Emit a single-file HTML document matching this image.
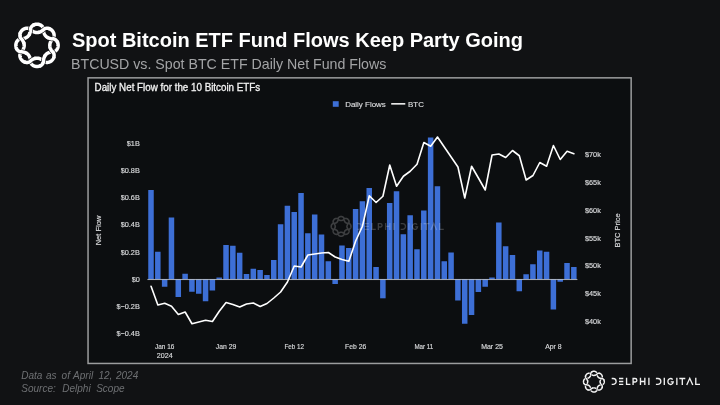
<!DOCTYPE html>
<html><head><meta charset="utf-8"><title>Spot Bitcoin ETF Fund Flows</title>
<style>
html,body{margin:0;padding:0;background:#111214;}
body{width:720px;height:405px;position:relative;overflow:hidden;font-family:"Liberation Sans",sans-serif;}
.title{position:absolute;left:72px;top:27px;font-size:19px;font-weight:bold;color:#fff;white-space:nowrap;line-height:24px;}
.sub{position:absolute;left:71.5px;top:54.5px;font-size:13.8px;color:#a2a3a5;white-space:nowrap;line-height:18px;}
.foot{position:absolute;left:21px;top:368.6px;font-size:10px;font-style:italic;color:#6d6f72;white-space:nowrap;line-height:13.2px;}
</style></head><body>
<svg width="720" height="405" viewBox="0 0 720 405" style="position:absolute;left:0;top:0;will-change:transform">
<rect x="88.05" y="77.85" width="543.1" height="285.6" fill="#0c0e10" stroke="#9c9d9e" stroke-width="1.5"/>
<g fill="#3d6fd6"><rect x="148.25" y="190.00" width="5.50" height="89.25"/><rect x="155.07" y="251.75" width="5.50" height="27.50"/><rect x="161.89" y="279.25" width="5.50" height="7.50"/><rect x="168.71" y="217.50" width="5.50" height="61.75"/><rect x="175.53" y="279.25" width="5.50" height="17.75"/><rect x="182.35" y="273.75" width="5.50" height="5.50"/><rect x="189.17" y="279.25" width="5.50" height="12.50"/><rect x="195.99" y="279.25" width="5.50" height="14.50"/><rect x="202.81" y="279.25" width="5.50" height="22.00"/><rect x="209.63" y="279.25" width="5.50" height="11.25"/><rect x="216.45" y="277.50" width="5.50" height="1.75"/><rect x="223.27" y="245.00" width="5.50" height="34.25"/><rect x="230.09" y="245.75" width="5.50" height="33.50"/><rect x="236.91" y="252.75" width="5.50" height="26.50"/><rect x="243.73" y="274.00" width="5.50" height="5.25"/><rect x="250.55" y="268.75" width="5.50" height="10.50"/><rect x="257.37" y="270.00" width="5.50" height="9.25"/><rect x="264.19" y="275.00" width="5.50" height="4.25"/><rect x="271.01" y="260.00" width="5.50" height="19.25"/><rect x="277.83" y="224.25" width="5.50" height="55.00"/><rect x="284.65" y="205.75" width="5.50" height="73.50"/><rect x="291.47" y="212.00" width="5.50" height="67.25"/><rect x="298.29" y="193.00" width="5.50" height="86.25"/><rect x="305.11" y="233.25" width="5.50" height="46.00"/><rect x="311.93" y="214.50" width="5.50" height="64.75"/><rect x="318.75" y="234.50" width="5.50" height="44.75"/><rect x="325.57" y="261.25" width="5.50" height="18.00"/><rect x="332.39" y="279.25" width="5.50" height="4.75"/><rect x="339.21" y="245.50" width="5.50" height="33.75"/><rect x="346.03" y="248.00" width="5.50" height="31.25"/><rect x="352.85" y="209.00" width="5.50" height="70.25"/><rect x="359.67" y="201.25" width="5.50" height="78.00"/><rect x="366.49" y="188.00" width="5.50" height="91.25"/><rect x="373.31" y="267.00" width="5.50" height="12.25"/><rect x="380.13" y="279.25" width="5.50" height="19.05"/><rect x="386.95" y="203.00" width="5.50" height="76.25"/><rect x="393.77" y="191.25" width="5.50" height="88.00"/><rect x="400.59" y="234.25" width="5.50" height="45.00"/><rect x="407.41" y="215.25" width="5.50" height="64.00"/><rect x="414.23" y="249.25" width="5.50" height="30.00"/><rect x="421.05" y="210.50" width="5.50" height="68.75"/><rect x="427.87" y="137.50" width="5.50" height="141.75"/><rect x="434.69" y="186.25" width="5.50" height="93.00"/><rect x="441.51" y="261.25" width="5.50" height="18.00"/><rect x="448.33" y="252.50" width="5.50" height="26.75"/><rect x="455.15" y="279.25" width="5.50" height="21.25"/><rect x="461.97" y="279.25" width="5.50" height="44.50"/><rect x="468.79" y="279.25" width="5.50" height="35.75"/><rect x="475.61" y="279.25" width="5.50" height="12.75"/><rect x="482.43" y="279.25" width="5.50" height="7.50"/><rect x="489.25" y="277.50" width="5.50" height="1.75"/><rect x="496.07" y="222.50" width="5.50" height="56.75"/><rect x="502.89" y="246.25" width="5.50" height="33.00"/><rect x="509.71" y="255.00" width="5.50" height="24.25"/><rect x="516.53" y="279.25" width="5.50" height="12.00"/><rect x="523.35" y="274.25" width="5.50" height="5.00"/><rect x="530.17" y="264.25" width="5.50" height="15.00"/><rect x="536.99" y="250.50" width="5.50" height="28.75"/><rect x="543.81" y="251.75" width="5.50" height="27.50"/><rect x="550.63" y="279.25" width="5.50" height="30.25"/><rect x="557.45" y="279.25" width="5.50" height="2.50"/><rect x="564.27" y="263.00" width="5.50" height="16.25"/><rect x="571.09" y="267.00" width="5.50" height="12.25"/></g>
<rect x="147.4" y="278.95" width="430" height="1.1" fill="#c3c8d2" fill-opacity="0.8"/>
<polyline points="151.05,286.25 157.87,305.00 164.69,303.25 171.51,306.25 178.33,314.50 185.15,312.00 191.97,323.75 198.79,322.00 205.61,320.25 212.43,321.50 219.25,311.25 226.07,302.50 232.89,304.50 239.71,307.00 246.53,304.00 253.35,303.00 260.17,306.50 266.99,303.50 273.81,298.00 280.63,292.00 287.45,282.00 294.27,266.00 301.09,267.00 307.91,255.00 314.73,254.00 321.55,253.00 328.37,252.50 335.19,257.00 342.01,259.50 348.83,261.25 355.65,241.00 362.47,226.25 369.29,195.75 376.11,202.50 382.93,196.25 389.75,165.00 396.57,186.25 403.39,176.25 410.21,171.25 417.03,164.25 423.85,142.50 430.67,146.25 437.49,137.00 444.31,147.00 451.13,157.00 457.95,167.00 464.77,198.00 471.59,166.25 478.41,178.00 485.23,190.00 492.05,155.00 498.87,154.00 505.69,157.50 512.51,150.50 519.33,155.75 526.15,180.00 532.97,175.50 539.79,162.50 546.61,166.25 553.43,145.50 560.25,159.50 567.07,151.25 573.89,153.75" fill="none" stroke="#ffffff" stroke-width="1.6" stroke-linejoin="round" stroke-linecap="round"/>
<g font-family="Liberation Sans, sans-serif" font-size="7.3" fill="#d6d7d9" stroke="#d6d7d9" stroke-width="0.18">
<text x="139.8" y="145.85" text-anchor="end">$1B</text>
<text x="139.8" y="173.05" text-anchor="end">$0.8B</text>
<text x="139.8" y="200.25" text-anchor="end">$0.6B</text>
<text x="139.8" y="227.45" text-anchor="end">$0.4B</text>
<text x="139.8" y="254.65" text-anchor="end">$0.2B</text>
<text x="139.8" y="281.85" text-anchor="end">$0</text>
<text x="139.8" y="309.05" text-anchor="end">$−0.2B</text>
<text x="139.8" y="336.25" text-anchor="end">$−0.4B</text>
<text x="585" y="157.30">$70k</text>
<text x="585" y="185.05">$65k</text>
<text x="585" y="212.80">$60k</text>
<text x="585" y="240.55">$55k</text>
<text x="585" y="268.30">$50k</text>
<text x="585" y="296.05">$45k</text>
<text x="585" y="323.80">$40k</text>
<text x="155.04" y="348.9" textLength="19.3" lengthAdjust="spacingAndGlyphs">Jan 16</text>
<text x="215.82" y="348.9" textLength="20.5" lengthAdjust="spacingAndGlyphs">Jan 29</text>
<text x="284.47" y="348.9" textLength="19.6" lengthAdjust="spacingAndGlyphs">Feb 12</text>
<text x="345.05" y="348.9" textLength="21.2" lengthAdjust="spacingAndGlyphs">Feb 26</text>
<text x="414.40" y="348.9" textLength="18.9" lengthAdjust="spacingAndGlyphs">Mar 11</text>
<text x="481.20" y="348.9" textLength="21.7" lengthAdjust="spacingAndGlyphs">Mar 25</text>
<text x="545.18" y="348.9" textLength="16.5" lengthAdjust="spacingAndGlyphs">Apr 8</text>
<text x="156.8" y="358.4" textLength="15.8" lengthAdjust="spacingAndGlyphs">2024</text>
<text transform="translate(101.0 230.5) rotate(-90)" text-anchor="middle" font-size="7.5">Net Flow</text>
<text transform="translate(620.2 230.5) rotate(-90)" text-anchor="middle" font-size="7.5">BTC Price</text>
</g>
<rect x="332.8" y="101.2" width="5.9" height="5.6" fill="#3d6fd6"/>
<rect x="391.2" y="103.1" width="14.1" height="1.5" fill="#ffffff"/>
<g font-family="Liberation Sans, sans-serif" font-size="7.8" fill="#dcdddf" stroke="#dcdddf" stroke-width="0.15"><text x="345.2" y="107.2" textLength="40.6" lengthAdjust="spacingAndGlyphs">Daily Flows</text><text x="408.1" y="107.2" textLength="15.8" lengthAdjust="spacingAndGlyphs">BTC</text></g>
<text x="94.6" y="90.8" font-family="Liberation Sans, sans-serif" font-size="10.3" fill="#f2f2f2" stroke="#f2f2f2" stroke-width="0.3" textLength="165.6" lengthAdjust="spacingAndGlyphs">Daily Net Flow for the 10 Bitcoin ETFs</text>
<g opacity="0.2">
<path d="M350.95 226.40 L350.95 226.23 L350.93 226.06 L350.91 225.89 L350.89 225.72 L350.85 225.55 L350.80 225.38 L350.75 225.22 L350.69 225.05 L350.61 224.89 L350.53 224.74 L350.44 224.58 L350.34 224.44 L350.22 224.29 L350.10 224.16 L349.97 224.02 L349.82 223.90 L349.66 223.78 L349.49 223.67 L349.31 223.57 L349.10 223.49 L348.87 223.42 L348.58 223.38 L348.13 223.42 L347.84 223.40 L347.61 223.36 L347.41 223.32 L347.23 223.28 L347.05 223.23 L346.90 223.19 L346.75 223.14 L346.61 223.09 L346.47 223.04 L346.35 222.99 L346.23 222.94 L346.12 222.89 L346.01 222.83 L345.91 222.78 L345.81 222.72 L345.72 222.66 L345.63 222.60 L345.55 222.54 L345.46 222.47 L345.39 222.40 L345.31 222.33 L345.24 222.26 L345.17 222.19 L345.10 222.11 L345.03 222.04 L344.96 221.95 L344.90 221.87 L344.84 221.78 L344.78 221.69 L344.72 221.59 L344.67 221.49 L344.61 221.38 L344.56 221.27 L344.51 221.15 L344.46 221.03 L344.41 220.89 L344.36 220.75 L344.31 220.60 L344.27 220.45 L344.22 220.27 L344.18 220.09 L344.14 219.89 L344.10 219.66 L344.08 219.37 L344.12 218.92 L344.08 218.63 L344.01 218.40 L343.93 218.19 L343.83 218.01 L343.72 217.84 L343.60 217.68 L343.48 217.53 L343.34 217.40 L343.21 217.28 L343.06 217.16 L342.92 217.06 L342.76 216.97 L342.61 216.89 L342.45 216.81 L342.28 216.75 L342.12 216.70 L341.95 216.65 L341.78 216.61 L341.61 216.59 L341.44 216.57 L341.27 216.55 L341.10 216.55 L340.93 216.55 L340.76 216.57 L340.59 216.59 L340.42 216.61 L340.25 216.65 L340.08 216.70 L339.92 216.75 L339.75 216.81 L339.59 216.89 L339.44 216.97 L339.28 217.06 L339.14 217.16 L338.99 217.28 L338.86 217.40 L338.72 217.53 L338.60 217.68 L338.48 217.84 L338.37 218.01 L338.27 218.19 L338.19 218.40 L338.12 218.63 L338.08 218.92 L338.12 219.37 L338.10 219.66 L338.06 219.89 L338.02 220.09 L337.98 220.27 L337.93 220.45 L337.89 220.60 L337.84 220.75 L337.79 220.89 L337.74 221.03 L337.69 221.15 L337.64 221.27 L337.59 221.38 L337.53 221.49 L337.48 221.59 L337.42 221.69 L337.36 221.78 L337.30 221.87 L337.24 221.95 L337.17 222.04 L337.10 222.11 L337.03 222.19 L336.96 222.26 L336.89 222.33 L336.81 222.40 L336.74 222.47 L336.65 222.54 L336.57 222.60 L336.48 222.66 L336.39 222.72 L336.29 222.78 L336.19 222.83 L336.08 222.89 L335.97 222.94 L335.85 222.99 L335.73 223.04 L335.59 223.09 L335.45 223.14 L335.30 223.19 L335.15 223.23 L334.97 223.28 L334.79 223.32 L334.59 223.36 L334.36 223.40 L334.07 223.42 L333.62 223.38 L333.33 223.42 L333.10 223.49 L332.89 223.57 L332.71 223.67 L332.54 223.78 L332.38 223.90 L332.23 224.02 L332.10 224.16 L331.98 224.29 L331.86 224.44 L331.76 224.58 L331.67 224.74 L331.59 224.89 L331.51 225.05 L331.45 225.22 L331.40 225.38 L331.35 225.55 L331.31 225.72 L331.29 225.89 L331.27 226.06 L331.25 226.23 L331.25 226.40 L331.25 226.57 L331.27 226.74 L331.29 226.91 L331.31 227.08 L331.35 227.25 L331.40 227.42 L331.45 227.58 L331.51 227.75 L331.59 227.91 L331.67 228.06 L331.76 228.22 L331.86 228.36 L331.98 228.51 L332.10 228.64 L332.23 228.78 L332.38 228.90 L332.54 229.02 L332.71 229.13 L332.89 229.23 L333.10 229.31 L333.33 229.38 L333.62 229.42 L334.07 229.38 L334.36 229.40 L334.59 229.44 L334.79 229.48 L334.97 229.52 L335.15 229.57 L335.30 229.61 L335.45 229.66 L335.59 229.71 L335.73 229.76 L335.85 229.81 L335.97 229.86 L336.08 229.91 L336.19 229.97 L336.29 230.02 L336.39 230.08 L336.48 230.14 L336.57 230.20 L336.65 230.26 L336.74 230.33 L336.81 230.40 L336.89 230.47 L336.96 230.54 L337.03 230.61 L337.10 230.69 L337.17 230.76 L337.24 230.85 L337.30 230.93 L337.36 231.02 L337.42 231.11 L337.48 231.21 L337.53 231.31 L337.59 231.42 L337.64 231.53 L337.69 231.65 L337.74 231.77 L337.79 231.91 L337.84 232.05 L337.89 232.20 L337.93 232.35 L337.98 232.53 L338.02 232.71 L338.06 232.91 L338.10 233.14 L338.12 233.43 L338.08 233.88 L338.12 234.17 L338.19 234.40 L338.27 234.61 L338.37 234.79 L338.48 234.96 L338.60 235.12 L338.72 235.27 L338.86 235.40 L338.99 235.52 L339.14 235.64 L339.28 235.74 L339.44 235.83 L339.59 235.91 L339.75 235.99 L339.92 236.05 L340.08 236.10 L340.25 236.15 L340.42 236.19 L340.59 236.21 L340.76 236.23 L340.93 236.25 L341.10 236.25 L341.27 236.25 L341.44 236.23 L341.61 236.21 L341.78 236.19 L341.95 236.15 L342.12 236.10 L342.28 236.05 L342.45 235.99 L342.61 235.91 L342.76 235.83 L342.92 235.74 L343.06 235.64 L343.21 235.52 L343.34 235.40 L343.48 235.27 L343.60 235.12 L343.72 234.96 L343.83 234.79 L343.93 234.61 L344.01 234.40 L344.08 234.17 L344.12 233.88 L344.08 233.43 L344.10 233.14 L344.14 232.91 L344.18 232.71 L344.22 232.53 L344.27 232.35 L344.31 232.20 L344.36 232.05 L344.41 231.91 L344.46 231.77 L344.51 231.65 L344.56 231.53 L344.61 231.42 L344.67 231.31 L344.72 231.21 L344.78 231.11 L344.84 231.02 L344.90 230.93 L344.96 230.85 L345.03 230.76 L345.10 230.69 L345.17 230.61 L345.24 230.54 L345.31 230.47 L345.39 230.40 L345.46 230.33 L345.55 230.26 L345.63 230.20 L345.72 230.14 L345.81 230.08 L345.91 230.02 L346.01 229.97 L346.12 229.91 L346.23 229.86 L346.35 229.81 L346.47 229.76 L346.61 229.71 L346.75 229.66 L346.90 229.61 L347.05 229.57 L347.23 229.52 L347.41 229.48 L347.61 229.44 L347.84 229.40 L348.13 229.38 L348.58 229.42 L348.87 229.38 L349.10 229.31 L349.31 229.23 L349.49 229.13 L349.66 229.02 L349.82 228.90 L349.97 228.78 L350.10 228.64 L350.22 228.51 L350.34 228.36 L350.44 228.22 L350.53 228.06 L350.61 227.91 L350.69 227.75 L350.75 227.58 L350.80 227.42 L350.85 227.25 L350.89 227.08 L350.91 226.91 L350.93 226.74 L350.95 226.57 Z M346.95 226.40 L346.95 226.30 L346.96 226.20 L346.96 226.09 L346.98 225.99 L346.99 225.88 L347.01 225.78 L347.03 225.67 L347.06 225.56 L347.09 225.45 L347.13 225.34 L347.17 225.22 L347.22 225.10 L347.27 224.97 L347.33 224.85 L347.40 224.71 L347.47 224.57 L347.55 224.43 L347.64 224.28 L347.74 224.11 L347.85 223.94 L347.99 223.75 L348.18 223.54 L348.53 223.25 L348.70 223.02 L348.81 222.80 L348.90 222.60 L348.96 222.39 L349.01 222.20 L349.04 222.00 L349.05 221.81 L349.05 221.62 L349.04 221.44 L349.02 221.26 L348.99 221.08 L348.94 220.91 L348.89 220.74 L348.83 220.57 L348.76 220.41 L348.68 220.26 L348.60 220.11 L348.50 219.96 L348.40 219.82 L348.30 219.69 L348.18 219.56 L348.07 219.43 L347.94 219.32 L347.81 219.20 L347.68 219.10 L347.54 219.00 L347.39 218.90 L347.24 218.82 L347.09 218.74 L346.93 218.67 L346.76 218.61 L346.59 218.56 L346.42 218.51 L346.24 218.48 L346.06 218.46 L345.88 218.45 L345.69 218.45 L345.50 218.46 L345.30 218.49 L345.11 218.54 L344.90 218.60 L344.70 218.69 L344.48 218.80 L344.25 218.97 L343.96 219.32 L343.75 219.51 L343.56 219.65 L343.39 219.76 L343.22 219.86 L343.07 219.95 L342.93 220.03 L342.79 220.10 L342.65 220.17 L342.53 220.23 L342.40 220.28 L342.28 220.33 L342.16 220.37 L342.05 220.41 L341.94 220.44 L341.83 220.47 L341.72 220.49 L341.62 220.51 L341.51 220.52 L341.41 220.54 L341.30 220.54 L341.20 220.55 L341.10 220.55 L341.00 220.55 L340.90 220.54 L340.79 220.54 L340.69 220.52 L340.58 220.51 L340.48 220.49 L340.37 220.47 L340.26 220.44 L340.15 220.41 L340.04 220.37 L339.92 220.33 L339.80 220.28 L339.67 220.23 L339.55 220.17 L339.41 220.10 L339.27 220.03 L339.13 219.95 L338.98 219.86 L338.81 219.76 L338.64 219.65 L338.45 219.51 L338.24 219.32 L337.95 218.97 L337.72 218.80 L337.50 218.69 L337.30 218.60 L337.09 218.54 L336.90 218.49 L336.70 218.46 L336.51 218.45 L336.32 218.45 L336.14 218.46 L335.96 218.48 L335.78 218.51 L335.61 218.56 L335.44 218.61 L335.27 218.67 L335.11 218.74 L334.96 218.82 L334.81 218.90 L334.66 219.00 L334.52 219.10 L334.39 219.20 L334.26 219.32 L334.13 219.43 L334.02 219.56 L333.90 219.69 L333.80 219.82 L333.70 219.96 L333.60 220.11 L333.52 220.26 L333.44 220.41 L333.37 220.57 L333.31 220.74 L333.26 220.91 L333.21 221.08 L333.18 221.26 L333.16 221.44 L333.15 221.62 L333.15 221.81 L333.16 222.00 L333.19 222.20 L333.24 222.39 L333.30 222.60 L333.39 222.80 L333.50 223.02 L333.67 223.25 L334.02 223.54 L334.21 223.75 L334.35 223.94 L334.46 224.11 L334.56 224.28 L334.65 224.43 L334.73 224.57 L334.80 224.71 L334.87 224.85 L334.93 224.97 L334.98 225.10 L335.03 225.22 L335.07 225.34 L335.11 225.45 L335.14 225.56 L335.17 225.67 L335.19 225.78 L335.21 225.88 L335.22 225.99 L335.24 226.09 L335.24 226.20 L335.25 226.30 L335.25 226.40 L335.25 226.50 L335.24 226.60 L335.24 226.71 L335.22 226.81 L335.21 226.92 L335.19 227.02 L335.17 227.13 L335.14 227.24 L335.11 227.35 L335.07 227.46 L335.03 227.58 L334.98 227.70 L334.93 227.83 L334.87 227.95 L334.80 228.09 L334.73 228.23 L334.65 228.37 L334.56 228.52 L334.46 228.69 L334.35 228.86 L334.21 229.05 L334.02 229.26 L333.67 229.55 L333.50 229.78 L333.39 230.00 L333.30 230.20 L333.24 230.41 L333.19 230.60 L333.16 230.80 L333.15 230.99 L333.15 231.18 L333.16 231.36 L333.18 231.54 L333.21 231.72 L333.26 231.89 L333.31 232.06 L333.37 232.23 L333.44 232.39 L333.52 232.54 L333.60 232.69 L333.70 232.84 L333.80 232.98 L333.90 233.11 L334.02 233.24 L334.13 233.37 L334.26 233.48 L334.39 233.60 L334.52 233.70 L334.66 233.80 L334.81 233.90 L334.96 233.98 L335.11 234.06 L335.27 234.13 L335.44 234.19 L335.61 234.24 L335.78 234.29 L335.96 234.32 L336.14 234.34 L336.32 234.35 L336.51 234.35 L336.70 234.34 L336.90 234.31 L337.09 234.26 L337.30 234.20 L337.50 234.11 L337.72 234.00 L337.95 233.83 L338.24 233.48 L338.45 233.29 L338.64 233.15 L338.81 233.04 L338.98 232.94 L339.13 232.85 L339.27 232.77 L339.41 232.70 L339.55 232.63 L339.67 232.57 L339.80 232.52 L339.92 232.47 L340.04 232.43 L340.15 232.39 L340.26 232.36 L340.37 232.33 L340.48 232.31 L340.58 232.29 L340.69 232.28 L340.79 232.26 L340.90 232.26 L341.00 232.25 L341.10 232.25 L341.20 232.25 L341.30 232.26 L341.41 232.26 L341.51 232.28 L341.62 232.29 L341.72 232.31 L341.83 232.33 L341.94 232.36 L342.05 232.39 L342.16 232.43 L342.28 232.47 L342.40 232.52 L342.53 232.57 L342.65 232.63 L342.79 232.70 L342.93 232.77 L343.07 232.85 L343.22 232.94 L343.39 233.04 L343.56 233.15 L343.75 233.29 L343.96 233.48 L344.25 233.83 L344.48 234.00 L344.70 234.11 L344.90 234.20 L345.11 234.26 L345.30 234.31 L345.50 234.34 L345.69 234.35 L345.88 234.35 L346.06 234.34 L346.24 234.32 L346.42 234.29 L346.59 234.24 L346.76 234.19 L346.93 234.13 L347.09 234.06 L347.24 233.98 L347.39 233.90 L347.54 233.80 L347.68 233.70 L347.81 233.60 L347.94 233.48 L348.07 233.37 L348.18 233.24 L348.30 233.11 L348.40 232.98 L348.50 232.84 L348.60 232.69 L348.68 232.54 L348.76 232.39 L348.83 232.23 L348.89 232.06 L348.94 231.89 L348.99 231.72 L349.02 231.54 L349.04 231.36 L349.05 231.18 L349.05 230.99 L349.04 230.80 L349.01 230.60 L348.96 230.41 L348.90 230.20 L348.81 230.00 L348.70 229.78 L348.53 229.55 L348.18 229.26 L347.99 229.05 L347.85 228.86 L347.74 228.69 L347.64 228.52 L347.55 228.37 L347.47 228.23 L347.40 228.09 L347.33 227.95 L347.27 227.83 L347.22 227.70 L347.17 227.58 L347.13 227.46 L347.09 227.35 L347.06 227.24 L347.03 227.13 L347.01 227.02 L346.99 226.92 L346.98 226.81 L346.96 226.71 L346.96 226.60 L346.95 226.50 Z" fill="none" stroke="#ffffff" stroke-width="1.60" stroke-linejoin="round"/>
<g transform="translate(357.50 223.00) scale(0.9770) translate(-611.7 -377.95)" fill="none" stroke="#ffffff" stroke-width="1.35" stroke-linecap="butt" stroke-linejoin="miter"><path d="M611.70 378.53 H613.17 A2.95 2.95 0 0 1 613.17 384.43 H611.70"/><path d="M619.00 378.53 H623.30 M619.00 381.48 H623.30 M619.00 384.43 H623.30"/><path d="M626.57 377.85 V384.43 H630.40"/><path d="M633.07 385.10 V378.53 H635.08 A1.75 1.75 0 0 1 635.08 382.03 H633.07"/><path d="M640.47 377.85 V385.10 M644.83 377.85 V385.10 M640.47 381.48 H644.83"/><path d="M648.90 377.85 V385.10"/><path d="M655.90 378.53 H657.88 A2.95 2.95 0 0 1 657.88 384.43 H655.90"/><path d="M664.30 377.85 V385.10"/><path d="M672.66 379.66 A2.67 2.95 0 1 0 673.22 381.83 H670.75"/><path d="M676.85 377.85 V385.10"/><path d="M679.30 378.53 H685.30 M682.30 378.53 V385.10"/><path d="M686.74 385.10 L689.75 378.35 L692.76 385.10"/><path d="M695.77 377.85 V384.43 H700.00"/></g>
</g>
<path d="M58.15 45.35 L58.14 44.98 L58.12 44.61 L58.07 44.25 L58.01 43.88 L57.94 43.52 L57.84 43.16 L57.73 42.81 L57.59 42.46 L57.44 42.11 L57.26 41.78 L57.07 41.45 L56.86 41.13 L56.62 40.82 L56.36 40.52 L56.08 40.24 L55.77 39.97 L55.44 39.71 L55.08 39.48 L54.69 39.26 L54.25 39.07 L53.76 38.92 L53.16 38.82 L52.21 38.90 L51.62 38.84 L51.13 38.76 L50.70 38.67 L50.31 38.57 L49.95 38.46 L49.61 38.36 L49.29 38.25 L49.00 38.14 L48.71 38.03 L48.45 37.92 L48.19 37.80 L47.95 37.68 L47.73 37.56 L47.51 37.43 L47.30 37.30 L47.10 37.17 L46.91 37.04 L46.72 36.90 L46.55 36.75 L46.38 36.61 L46.21 36.45 L46.05 36.30 L45.90 36.14 L45.74 35.97 L45.60 35.80 L45.45 35.63 L45.31 35.44 L45.18 35.25 L45.05 35.05 L44.92 34.84 L44.79 34.62 L44.67 34.40 L44.55 34.16 L44.43 33.90 L44.32 33.64 L44.21 33.35 L44.10 33.06 L43.99 32.74 L43.89 32.40 L43.78 32.04 L43.68 31.65 L43.59 31.22 L43.51 30.73 L43.45 30.14 L43.53 29.19 L43.43 28.59 L43.28 28.10 L43.09 27.66 L42.87 27.27 L42.64 26.91 L42.38 26.58 L42.11 26.27 L41.83 25.99 L41.53 25.73 L41.22 25.49 L40.90 25.28 L40.57 25.09 L40.24 24.91 L39.89 24.76 L39.54 24.62 L39.19 24.51 L38.83 24.41 L38.47 24.34 L38.10 24.28 L37.74 24.23 L37.37 24.21 L37.00 24.20 L36.63 24.21 L36.26 24.23 L35.90 24.28 L35.53 24.34 L35.17 24.41 L34.81 24.51 L34.46 24.62 L34.11 24.76 L33.76 24.91 L33.43 25.09 L33.10 25.28 L32.78 25.49 L32.47 25.73 L32.17 25.99 L31.89 26.27 L31.62 26.58 L31.36 26.91 L31.13 27.27 L30.91 27.66 L30.72 28.10 L30.57 28.59 L30.47 29.19 L30.55 30.14 L30.49 30.73 L30.41 31.22 L30.32 31.65 L30.22 32.04 L30.11 32.40 L30.01 32.74 L29.90 33.06 L29.79 33.35 L29.68 33.64 L29.57 33.90 L29.45 34.16 L29.33 34.40 L29.21 34.62 L29.08 34.84 L28.95 35.05 L28.82 35.25 L28.69 35.44 L28.55 35.63 L28.40 35.80 L28.26 35.97 L28.10 36.14 L27.95 36.30 L27.79 36.45 L27.62 36.61 L27.45 36.75 L27.28 36.90 L27.09 37.04 L26.90 37.17 L26.70 37.30 L26.49 37.43 L26.27 37.56 L26.05 37.68 L25.81 37.80 L25.55 37.92 L25.29 38.03 L25.00 38.14 L24.71 38.25 L24.39 38.36 L24.05 38.46 L23.69 38.57 L23.30 38.67 L22.87 38.76 L22.38 38.84 L21.79 38.90 L20.84 38.82 L20.24 38.92 L19.75 39.07 L19.31 39.26 L18.92 39.48 L18.56 39.71 L18.23 39.97 L17.92 40.24 L17.64 40.52 L17.38 40.82 L17.14 41.13 L16.93 41.45 L16.74 41.78 L16.56 42.11 L16.41 42.46 L16.27 42.81 L16.16 43.16 L16.06 43.52 L15.99 43.88 L15.93 44.25 L15.88 44.61 L15.86 44.98 L15.85 45.35 L15.86 45.72 L15.88 46.09 L15.93 46.45 L15.99 46.82 L16.06 47.18 L16.16 47.54 L16.27 47.89 L16.41 48.24 L16.56 48.59 L16.74 48.92 L16.93 49.25 L17.14 49.57 L17.38 49.88 L17.64 50.18 L17.92 50.46 L18.23 50.73 L18.56 50.99 L18.92 51.22 L19.31 51.44 L19.75 51.63 L20.24 51.78 L20.84 51.88 L21.79 51.80 L22.38 51.86 L22.87 51.94 L23.30 52.03 L23.69 52.13 L24.05 52.24 L24.39 52.34 L24.71 52.45 L25.00 52.56 L25.29 52.67 L25.55 52.78 L25.81 52.90 L26.05 53.02 L26.27 53.14 L26.49 53.27 L26.70 53.40 L26.90 53.53 L27.09 53.66 L27.28 53.80 L27.45 53.95 L27.62 54.09 L27.79 54.25 L27.95 54.40 L28.10 54.56 L28.26 54.73 L28.40 54.90 L28.55 55.07 L28.69 55.26 L28.82 55.45 L28.95 55.65 L29.08 55.86 L29.21 56.08 L29.33 56.30 L29.45 56.54 L29.57 56.80 L29.68 57.06 L29.79 57.35 L29.90 57.64 L30.01 57.96 L30.11 58.30 L30.22 58.66 L30.32 59.05 L30.41 59.48 L30.49 59.97 L30.55 60.56 L30.47 61.51 L30.57 62.11 L30.72 62.60 L30.91 63.04 L31.13 63.43 L31.36 63.79 L31.62 64.12 L31.89 64.43 L32.17 64.71 L32.47 64.97 L32.78 65.21 L33.10 65.42 L33.43 65.61 L33.76 65.79 L34.11 65.94 L34.46 66.08 L34.81 66.19 L35.17 66.29 L35.53 66.36 L35.90 66.42 L36.26 66.47 L36.63 66.49 L37.00 66.50 L37.37 66.49 L37.74 66.47 L38.10 66.42 L38.47 66.36 L38.83 66.29 L39.19 66.19 L39.54 66.08 L39.89 65.94 L40.24 65.79 L40.57 65.61 L40.90 65.42 L41.22 65.21 L41.53 64.97 L41.83 64.71 L42.11 64.43 L42.38 64.12 L42.64 63.79 L42.87 63.43 L43.09 63.04 L43.28 62.60 L43.43 62.11 L43.53 61.51 L43.45 60.56 L43.51 59.97 L43.59 59.48 L43.68 59.05 L43.78 58.66 L43.89 58.30 L43.99 57.96 L44.10 57.64 L44.21 57.35 L44.32 57.06 L44.43 56.80 L44.55 56.54 L44.67 56.30 L44.79 56.08 L44.92 55.86 L45.05 55.65 L45.18 55.45 L45.31 55.26 L45.45 55.07 L45.60 54.90 L45.74 54.73 L45.90 54.56 L46.05 54.40 L46.21 54.25 L46.38 54.09 L46.55 53.95 L46.72 53.80 L46.91 53.66 L47.10 53.53 L47.30 53.40 L47.51 53.27 L47.73 53.14 L47.95 53.02 L48.19 52.90 L48.45 52.78 L48.71 52.67 L49.00 52.56 L49.29 52.45 L49.61 52.34 L49.95 52.24 L50.31 52.13 L50.70 52.03 L51.13 51.94 L51.62 51.86 L52.21 51.80 L53.16 51.88 L53.76 51.78 L54.25 51.63 L54.69 51.44 L55.08 51.22 L55.44 50.99 L55.77 50.73 L56.08 50.46 L56.36 50.18 L56.62 49.88 L56.86 49.57 L57.07 49.25 L57.26 48.92 L57.44 48.59 L57.59 48.24 L57.73 47.89 L57.84 47.54 L57.94 47.18 L58.01 46.82 L58.07 46.45 L58.12 46.09 L58.14 45.72 Z M49.80 45.35 L49.80 45.13 L49.81 44.90 L49.83 44.68 L49.85 44.45 L49.88 44.22 L49.92 43.99 L49.97 43.76 L50.03 43.52 L50.09 43.28 L50.17 43.03 L50.26 42.77 L50.35 42.51 L50.46 42.24 L50.58 41.96 L50.71 41.68 L50.86 41.38 L51.03 41.06 L51.21 40.73 L51.42 40.39 L51.65 40.02 L51.94 39.62 L52.32 39.16 L53.05 38.54 L53.40 38.05 L53.64 37.59 L53.81 37.15 L53.94 36.72 L54.03 36.30 L54.08 35.88 L54.11 35.47 L54.10 35.07 L54.08 34.68 L54.03 34.29 L53.95 33.92 L53.86 33.55 L53.74 33.19 L53.61 32.84 L53.45 32.49 L53.29 32.16 L53.10 31.84 L52.90 31.53 L52.68 31.23 L52.45 30.94 L52.21 30.66 L51.96 30.39 L51.69 30.14 L51.41 29.90 L51.12 29.67 L50.82 29.45 L50.51 29.25 L50.19 29.06 L49.86 28.90 L49.51 28.74 L49.16 28.61 L48.80 28.49 L48.43 28.40 L48.06 28.32 L47.67 28.27 L47.28 28.25 L46.88 28.24 L46.47 28.27 L46.05 28.32 L45.63 28.41 L45.20 28.54 L44.76 28.71 L44.30 28.95 L43.81 29.30 L43.19 30.03 L42.73 30.41 L42.33 30.70 L41.96 30.93 L41.62 31.14 L41.29 31.32 L40.97 31.49 L40.67 31.64 L40.39 31.77 L40.11 31.89 L39.84 32.00 L39.58 32.09 L39.32 32.18 L39.07 32.26 L38.83 32.32 L38.59 32.38 L38.36 32.43 L38.13 32.47 L37.90 32.50 L37.67 32.52 L37.45 32.54 L37.22 32.55 L37.00 32.55 L36.78 32.55 L36.55 32.54 L36.33 32.52 L36.10 32.50 L35.87 32.47 L35.64 32.43 L35.41 32.38 L35.17 32.32 L34.93 32.26 L34.68 32.18 L34.42 32.09 L34.16 32.00 L33.89 31.89 L33.61 31.77 L33.33 31.64 L33.03 31.49 L32.71 31.32 L32.38 31.14 L32.04 30.93 L31.67 30.70 L31.27 30.41 L30.81 30.03 L30.19 29.30 L29.70 28.95 L29.24 28.71 L28.80 28.54 L28.37 28.41 L27.95 28.32 L27.53 28.27 L27.12 28.24 L26.72 28.25 L26.33 28.27 L25.94 28.32 L25.57 28.40 L25.20 28.49 L24.84 28.61 L24.49 28.74 L24.14 28.90 L23.81 29.06 L23.49 29.25 L23.18 29.45 L22.88 29.67 L22.59 29.90 L22.31 30.14 L22.04 30.39 L21.79 30.66 L21.55 30.94 L21.32 31.23 L21.10 31.53 L20.90 31.84 L20.71 32.16 L20.55 32.49 L20.39 32.84 L20.26 33.19 L20.14 33.55 L20.05 33.92 L19.97 34.29 L19.92 34.68 L19.90 35.07 L19.89 35.47 L19.92 35.88 L19.97 36.30 L20.06 36.72 L20.19 37.15 L20.36 37.59 L20.60 38.05 L20.95 38.54 L21.68 39.16 L22.06 39.62 L22.35 40.02 L22.58 40.39 L22.79 40.73 L22.97 41.06 L23.14 41.38 L23.29 41.68 L23.42 41.96 L23.54 42.24 L23.65 42.51 L23.74 42.77 L23.83 43.03 L23.91 43.28 L23.97 43.52 L24.03 43.76 L24.08 43.99 L24.12 44.22 L24.15 44.45 L24.17 44.68 L24.19 44.90 L24.20 45.13 L24.20 45.35 L24.20 45.57 L24.19 45.80 L24.17 46.02 L24.15 46.25 L24.12 46.48 L24.08 46.71 L24.03 46.94 L23.97 47.18 L23.91 47.42 L23.83 47.67 L23.74 47.93 L23.65 48.19 L23.54 48.46 L23.42 48.74 L23.29 49.02 L23.14 49.32 L22.97 49.64 L22.79 49.97 L22.58 50.31 L22.35 50.68 L22.06 51.08 L21.68 51.54 L20.95 52.16 L20.60 52.65 L20.36 53.11 L20.19 53.55 L20.06 53.98 L19.97 54.40 L19.92 54.82 L19.89 55.23 L19.90 55.63 L19.92 56.02 L19.97 56.41 L20.05 56.78 L20.14 57.15 L20.26 57.51 L20.39 57.86 L20.55 58.21 L20.71 58.54 L20.90 58.86 L21.10 59.17 L21.32 59.47 L21.55 59.76 L21.79 60.04 L22.04 60.31 L22.31 60.56 L22.59 60.80 L22.88 61.03 L23.18 61.25 L23.49 61.45 L23.81 61.64 L24.14 61.80 L24.49 61.96 L24.84 62.09 L25.20 62.21 L25.57 62.30 L25.94 62.38 L26.33 62.43 L26.72 62.45 L27.12 62.46 L27.53 62.43 L27.95 62.38 L28.37 62.29 L28.80 62.16 L29.24 61.99 L29.70 61.75 L30.19 61.40 L30.81 60.67 L31.27 60.29 L31.67 60.00 L32.04 59.77 L32.38 59.56 L32.71 59.38 L33.03 59.21 L33.33 59.06 L33.61 58.93 L33.89 58.81 L34.16 58.70 L34.42 58.61 L34.68 58.52 L34.93 58.44 L35.17 58.38 L35.41 58.32 L35.64 58.27 L35.87 58.23 L36.10 58.20 L36.33 58.18 L36.55 58.16 L36.78 58.15 L37.00 58.15 L37.22 58.15 L37.45 58.16 L37.67 58.18 L37.90 58.20 L38.13 58.23 L38.36 58.27 L38.59 58.32 L38.83 58.38 L39.07 58.44 L39.32 58.52 L39.58 58.61 L39.84 58.70 L40.11 58.81 L40.39 58.93 L40.67 59.06 L40.97 59.21 L41.29 59.38 L41.62 59.56 L41.96 59.77 L42.33 60.00 L42.73 60.29 L43.19 60.67 L43.81 61.40 L44.30 61.75 L44.76 61.99 L45.20 62.16 L45.63 62.29 L46.05 62.38 L46.47 62.43 L46.88 62.46 L47.28 62.45 L47.67 62.43 L48.06 62.38 L48.43 62.30 L48.80 62.21 L49.16 62.09 L49.51 61.96 L49.86 61.80 L50.19 61.64 L50.51 61.45 L50.82 61.25 L51.12 61.03 L51.41 60.80 L51.69 60.56 L51.96 60.31 L52.21 60.04 L52.45 59.76 L52.68 59.47 L52.90 59.17 L53.10 58.86 L53.29 58.54 L53.45 58.21 L53.61 57.86 L53.74 57.51 L53.86 57.15 L53.95 56.78 L54.03 56.41 L54.08 56.02 L54.10 55.63 L54.11 55.23 L54.08 54.82 L54.03 54.40 L53.94 53.98 L53.81 53.55 L53.64 53.11 L53.40 52.65 L53.05 52.16 L52.32 51.54 L51.94 51.08 L51.65 50.68 L51.42 50.31 L51.21 49.97 L51.03 49.64 L50.86 49.32 L50.71 49.02 L50.58 48.74 L50.46 48.46 L50.35 48.19 L50.26 47.93 L50.17 47.67 L50.09 47.42 L50.03 47.18 L49.97 46.94 L49.92 46.71 L49.88 46.48 L49.85 46.25 L49.83 46.02 L49.81 45.80 L49.80 45.57 Z" fill="none" stroke="#ffffff" stroke-width="3.50" stroke-linejoin="round"/><path d="M56.97 41.29 L56.81 41.07 L56.65 40.86 L56.48 40.65 L56.29 40.45 L56.10 40.25 L55.89 40.07 L55.67 39.89 L55.44 39.71 L55.20 39.55 L54.94 39.39 L54.66 39.25 L54.36 39.12 L54.04 39.00 L53.69 38.90 L53.29 38.83 L52.68 38.85 L52.08 38.89 L51.68 38.85 L51.34 38.80 L51.02 38.74 L50.73 38.67 L50.45 38.61 L50.20 38.54 L49.95 38.46 L49.72 38.39 L49.49 38.32 L49.28 38.24 L49.07 38.17 L48.87 38.09 L48.68 38.02 L48.50 37.94 L48.32 37.86 M48.25 28.36 L47.98 28.31 L47.72 28.28 L47.45 28.25 L47.18 28.24 L46.90 28.24 L46.62 28.26 L46.34 28.28 L46.05 28.32 L45.76 28.38 L45.47 28.45 L45.17 28.55 L44.87 28.66 L44.56 28.81 L44.24 28.99 L43.91 29.22 L43.50 29.67 L43.10 30.12 L42.79 30.37 L42.50 30.58 L42.24 30.76 L41.99 30.92 L41.74 31.07 L41.51 31.20 L41.29 31.32 L41.07 31.44 L40.86 31.55 L40.66 31.65 L40.46 31.74 L40.26 31.82 L40.07 31.90 L39.89 31.98 L39.71 32.05 M32.94 25.38 L32.72 25.54 L32.51 25.70 L32.30 25.87 L32.10 26.06 L31.90 26.25 L31.72 26.46 L31.54 26.68 L31.36 26.91 L31.20 27.15 L31.04 27.41 L30.90 27.69 L30.77 27.99 L30.65 28.31 L30.55 28.66 L30.48 29.06 L30.50 29.67 L30.54 30.27 L30.50 30.67 L30.45 31.01 L30.39 31.33 L30.32 31.62 L30.26 31.90 L30.19 32.15 L30.11 32.40 L30.04 32.63 L29.97 32.86 L29.89 33.07 L29.82 33.28 L29.74 33.48 L29.67 33.67 L29.59 33.85 L29.51 34.03 M20.01 34.10 L19.96 34.37 L19.93 34.63 L19.90 34.90 L19.89 35.17 L19.89 35.45 L19.91 35.73 L19.93 36.01 L19.97 36.30 L20.03 36.59 L20.10 36.88 L20.20 37.18 L20.31 37.48 L20.46 37.79 L20.64 38.11 L20.87 38.44 L21.32 38.85 L21.77 39.25 L22.02 39.56 L22.23 39.85 L22.41 40.11 L22.57 40.36 L22.72 40.61 L22.85 40.84 L22.97 41.06 L23.09 41.28 L23.20 41.49 L23.30 41.69 L23.39 41.89 L23.47 42.09 L23.55 42.28 L23.63 42.46 L23.70 42.64 M17.03 49.41 L17.19 49.63 L17.35 49.84 L17.52 50.05 L17.71 50.25 L17.90 50.45 L18.11 50.63 L18.33 50.81 L18.56 50.99 L18.80 51.15 L19.06 51.31 L19.34 51.45 L19.64 51.58 L19.96 51.70 L20.31 51.80 L20.71 51.87 L21.32 51.85 L21.92 51.81 L22.32 51.85 L22.66 51.90 L22.98 51.96 L23.27 52.03 L23.55 52.09 L23.80 52.16 L24.05 52.24 L24.28 52.31 L24.51 52.38 L24.72 52.46 L24.93 52.53 L25.13 52.61 L25.32 52.68 L25.50 52.76 L25.68 52.84 M25.75 62.34 L26.02 62.39 L26.28 62.42 L26.55 62.45 L26.82 62.46 L27.10 62.46 L27.38 62.44 L27.66 62.42 L27.95 62.38 L28.24 62.32 L28.53 62.25 L28.83 62.15 L29.13 62.04 L29.44 61.89 L29.76 61.71 L30.09 61.48 L30.50 61.03 L30.90 60.58 L31.21 60.33 L31.50 60.12 L31.76 59.94 L32.01 59.78 L32.26 59.63 L32.49 59.50 L32.71 59.38 L32.93 59.26 L33.14 59.15 L33.34 59.05 L33.54 58.96 L33.74 58.88 L33.93 58.80 L34.11 58.72 L34.29 58.65 M41.06 65.32 L41.28 65.16 L41.49 65.00 L41.70 64.83 L41.90 64.64 L42.10 64.45 L42.28 64.24 L42.46 64.02 L42.64 63.79 L42.80 63.55 L42.96 63.29 L43.10 63.01 L43.23 62.71 L43.35 62.39 L43.45 62.04 L43.52 61.64 L43.50 61.03 L43.46 60.43 L43.50 60.03 L43.55 59.69 L43.61 59.37 L43.68 59.08 L43.74 58.80 L43.81 58.55 L43.89 58.30 L43.96 58.07 L44.03 57.84 L44.11 57.63 L44.18 57.42 L44.26 57.22 L44.33 57.03 L44.41 56.85 L44.49 56.67 M53.99 56.60 L54.04 56.33 L54.07 56.07 L54.10 55.80 L54.11 55.53 L54.11 55.25 L54.09 54.97 L54.07 54.69 L54.03 54.40 L53.97 54.11 L53.90 53.82 L53.80 53.52 L53.69 53.22 L53.54 52.91 L53.36 52.59 L53.13 52.26 L52.68 51.85 L52.23 51.45 L51.98 51.14 L51.77 50.85 L51.59 50.59 L51.43 50.34 L51.28 50.09 L51.15 49.86 L51.03 49.64 L50.91 49.42 L50.80 49.21 L50.70 49.01 L50.61 48.81 L50.53 48.61 L50.45 48.42 L50.37 48.24 L50.30 48.06" fill="none" stroke="#111214" stroke-width="4.70" stroke-linecap="butt"/><path d="M57.79 42.98 L57.66 42.63 L57.52 42.28 L57.35 41.94 L57.17 41.61 L56.97 41.29 L56.74 40.97 L56.49 40.67 L56.22 40.38 L55.93 40.10 L55.61 39.84 L55.26 39.59 L54.89 39.37 L54.47 39.16 L54.01 38.99 L53.48 38.86 L52.68 38.85 L51.89 38.88 L51.37 38.80 L50.91 38.71 L50.50 38.62 L50.13 38.52 L49.78 38.41 L49.45 38.31 L49.14 38.20 L48.85 38.09 L48.58 37.97 L48.32 37.86 L48.07 37.74 L47.84 37.62 L47.61 37.50 L47.40 37.37 L47.20 37.24 M50.02 28.98 L49.69 28.82 L49.34 28.67 L48.98 28.55 L48.62 28.44 L48.25 28.36 L47.86 28.30 L47.47 28.26 L47.08 28.24 L46.67 28.25 L46.26 28.29 L45.84 28.36 L45.42 28.47 L44.98 28.62 L44.53 28.82 L44.06 29.11 L43.50 29.67 L42.95 30.24 L42.53 30.56 L42.15 30.82 L41.79 31.04 L41.45 31.24 L41.13 31.41 L40.82 31.56 L40.53 31.71 L40.25 31.83 L39.97 31.95 L39.71 32.05 L39.45 32.14 L39.20 32.22 L38.95 32.29 L38.71 32.35 L38.48 32.40 M34.63 24.56 L34.28 24.69 L33.93 24.83 L33.59 25.00 L33.26 25.18 L32.94 25.38 L32.62 25.61 L32.32 25.86 L32.03 26.13 L31.75 26.42 L31.49 26.74 L31.24 27.09 L31.02 27.46 L30.81 27.88 L30.64 28.34 L30.51 28.87 L30.50 29.67 L30.53 30.46 L30.45 30.98 L30.36 31.44 L30.27 31.85 L30.17 32.22 L30.06 32.57 L29.96 32.90 L29.85 33.21 L29.74 33.50 L29.62 33.77 L29.51 34.03 L29.39 34.28 L29.27 34.51 L29.15 34.74 L29.02 34.95 L28.89 35.15 M20.63 32.33 L20.47 32.66 L20.32 33.01 L20.20 33.37 L20.09 33.73 L20.01 34.10 L19.95 34.49 L19.91 34.88 L19.89 35.27 L19.90 35.68 L19.94 36.09 L20.01 36.51 L20.12 36.93 L20.27 37.37 L20.47 37.82 L20.76 38.29 L21.32 38.85 L21.89 39.40 L22.21 39.82 L22.47 40.20 L22.69 40.56 L22.89 40.90 L23.06 41.22 L23.21 41.53 L23.36 41.82 L23.48 42.10 L23.60 42.38 L23.70 42.64 L23.79 42.90 L23.87 43.15 L23.94 43.40 L24.00 43.64 L24.05 43.87 M16.21 47.72 L16.34 48.07 L16.48 48.42 L16.65 48.76 L16.83 49.09 L17.03 49.41 L17.26 49.73 L17.51 50.03 L17.78 50.32 L18.07 50.60 L18.39 50.86 L18.74 51.11 L19.11 51.33 L19.53 51.54 L19.99 51.71 L20.52 51.84 L21.32 51.85 L22.11 51.82 L22.63 51.90 L23.09 51.99 L23.50 52.08 L23.87 52.18 L24.22 52.29 L24.55 52.39 L24.86 52.50 L25.15 52.61 L25.42 52.73 L25.68 52.84 L25.93 52.96 L26.16 53.08 L26.39 53.20 L26.60 53.33 L26.80 53.46 M23.98 61.72 L24.31 61.88 L24.66 62.03 L25.02 62.15 L25.38 62.26 L25.75 62.34 L26.14 62.40 L26.53 62.44 L26.92 62.46 L27.33 62.45 L27.74 62.41 L28.16 62.34 L28.58 62.23 L29.02 62.08 L29.47 61.88 L29.94 61.59 L30.50 61.03 L31.05 60.46 L31.47 60.14 L31.85 59.88 L32.21 59.66 L32.55 59.46 L32.87 59.29 L33.18 59.14 L33.47 58.99 L33.75 58.87 L34.03 58.75 L34.29 58.65 L34.55 58.56 L34.80 58.48 L35.05 58.41 L35.29 58.35 L35.52 58.30 M39.37 66.14 L39.72 66.01 L40.07 65.87 L40.41 65.70 L40.74 65.52 L41.06 65.32 L41.38 65.09 L41.68 64.84 L41.97 64.57 L42.25 64.28 L42.51 63.96 L42.76 63.61 L42.98 63.24 L43.19 62.82 L43.36 62.36 L43.49 61.83 L43.50 61.03 L43.47 60.24 L43.55 59.72 L43.64 59.26 L43.73 58.85 L43.83 58.48 L43.94 58.13 L44.04 57.80 L44.15 57.49 L44.26 57.20 L44.38 56.93 L44.49 56.67 L44.61 56.42 L44.73 56.19 L44.85 55.96 L44.98 55.75 L45.11 55.55 M53.37 58.37 L53.53 58.04 L53.68 57.69 L53.80 57.33 L53.91 56.97 L53.99 56.60 L54.05 56.21 L54.09 55.82 L54.11 55.43 L54.10 55.02 L54.06 54.61 L53.99 54.19 L53.88 53.77 L53.73 53.33 L53.53 52.88 L53.24 52.41 L52.68 51.85 L52.11 51.30 L51.79 50.88 L51.53 50.50 L51.31 50.14 L51.11 49.80 L50.94 49.48 L50.79 49.17 L50.64 48.88 L50.52 48.60 L50.40 48.32 L50.30 48.06 L50.21 47.80 L50.13 47.55 L50.06 47.30 L50.00 47.06 L49.95 46.83" fill="none" stroke="#ffffff" stroke-width="3.50" stroke-linecap="butt"/>
<path d="M604.30 381.65 L604.30 381.47 L604.28 381.29 L604.26 381.11 L604.23 380.93 L604.19 380.75 L604.15 380.57 L604.09 380.40 L604.02 380.23 L603.94 380.06 L603.86 379.89 L603.76 379.73 L603.65 379.58 L603.54 379.43 L603.41 379.28 L603.27 379.14 L603.11 379.01 L602.95 378.88 L602.77 378.77 L602.57 378.66 L602.35 378.57 L602.11 378.50 L601.81 378.45 L601.33 378.50 L601.03 378.47 L600.79 378.44 L600.58 378.39 L600.38 378.35 L600.20 378.30 L600.04 378.25 L599.88 378.20 L599.73 378.15 L599.59 378.09 L599.46 378.04 L599.33 377.99 L599.21 377.93 L599.10 377.87 L598.99 377.81 L598.89 377.75 L598.79 377.69 L598.70 377.62 L598.61 377.55 L598.52 377.49 L598.44 377.41 L598.36 377.34 L598.28 377.27 L598.21 377.19 L598.14 377.11 L598.06 377.03 L598.00 376.94 L597.93 376.85 L597.86 376.76 L597.80 376.66 L597.74 376.56 L597.68 376.45 L597.62 376.34 L597.56 376.22 L597.51 376.09 L597.46 375.96 L597.40 375.82 L597.35 375.67 L597.30 375.51 L597.25 375.35 L597.20 375.17 L597.16 374.97 L597.11 374.76 L597.08 374.52 L597.05 374.22 L597.10 373.74 L597.05 373.44 L596.98 373.20 L596.89 372.98 L596.78 372.78 L596.67 372.60 L596.54 372.44 L596.41 372.28 L596.27 372.14 L596.12 372.01 L595.97 371.90 L595.82 371.79 L595.66 371.69 L595.49 371.61 L595.32 371.53 L595.15 371.46 L594.98 371.40 L594.80 371.36 L594.62 371.32 L594.44 371.29 L594.26 371.27 L594.08 371.25 L593.90 371.25 L593.72 371.25 L593.54 371.27 L593.36 371.29 L593.18 371.32 L593.00 371.36 L592.82 371.40 L592.65 371.46 L592.48 371.53 L592.31 371.61 L592.14 371.69 L591.98 371.79 L591.83 371.90 L591.68 372.01 L591.53 372.14 L591.39 372.28 L591.26 372.44 L591.13 372.60 L591.02 372.78 L590.91 372.98 L590.82 373.20 L590.75 373.44 L590.70 373.74 L590.75 374.22 L590.72 374.52 L590.69 374.76 L590.64 374.97 L590.60 375.17 L590.55 375.35 L590.50 375.51 L590.45 375.67 L590.40 375.82 L590.34 375.96 L590.29 376.09 L590.24 376.22 L590.18 376.34 L590.12 376.45 L590.06 376.56 L590.00 376.66 L589.94 376.76 L589.87 376.85 L589.80 376.94 L589.74 377.03 L589.66 377.11 L589.59 377.19 L589.52 377.27 L589.44 377.34 L589.36 377.41 L589.28 377.49 L589.19 377.55 L589.10 377.62 L589.01 377.69 L588.91 377.75 L588.81 377.81 L588.70 377.87 L588.59 377.93 L588.47 377.99 L588.34 378.04 L588.21 378.09 L588.07 378.15 L587.92 378.20 L587.76 378.25 L587.60 378.30 L587.42 378.35 L587.22 378.39 L587.01 378.44 L586.77 378.47 L586.47 378.50 L585.99 378.45 L585.69 378.50 L585.45 378.57 L585.23 378.66 L585.03 378.77 L584.85 378.88 L584.69 379.01 L584.53 379.14 L584.39 379.28 L584.26 379.43 L584.15 379.58 L584.04 379.73 L583.94 379.89 L583.86 380.06 L583.78 380.23 L583.71 380.40 L583.65 380.57 L583.61 380.75 L583.57 380.93 L583.54 381.11 L583.52 381.29 L583.50 381.47 L583.50 381.65 L583.50 381.83 L583.52 382.01 L583.54 382.19 L583.57 382.37 L583.61 382.55 L583.65 382.73 L583.71 382.90 L583.78 383.07 L583.86 383.24 L583.94 383.41 L584.04 383.57 L584.15 383.72 L584.26 383.87 L584.39 384.02 L584.53 384.16 L584.69 384.29 L584.85 384.42 L585.03 384.53 L585.23 384.64 L585.45 384.73 L585.69 384.80 L585.99 384.85 L586.47 384.80 L586.77 384.83 L587.01 384.86 L587.22 384.91 L587.42 384.95 L587.60 385.00 L587.76 385.05 L587.92 385.10 L588.07 385.15 L588.21 385.21 L588.34 385.26 L588.47 385.31 L588.59 385.37 L588.70 385.43 L588.81 385.49 L588.91 385.55 L589.01 385.61 L589.10 385.68 L589.19 385.75 L589.28 385.81 L589.36 385.89 L589.44 385.96 L589.52 386.03 L589.59 386.11 L589.66 386.19 L589.74 386.27 L589.80 386.36 L589.87 386.45 L589.94 386.54 L590.00 386.64 L590.06 386.74 L590.12 386.85 L590.18 386.96 L590.24 387.08 L590.29 387.21 L590.34 387.34 L590.40 387.48 L590.45 387.63 L590.50 387.79 L590.55 387.95 L590.60 388.13 L590.64 388.33 L590.69 388.54 L590.72 388.78 L590.75 389.08 L590.70 389.56 L590.75 389.86 L590.82 390.10 L590.91 390.32 L591.02 390.52 L591.13 390.70 L591.26 390.86 L591.39 391.02 L591.53 391.16 L591.68 391.29 L591.83 391.40 L591.98 391.51 L592.14 391.61 L592.31 391.69 L592.48 391.77 L592.65 391.84 L592.82 391.90 L593.00 391.94 L593.18 391.98 L593.36 392.01 L593.54 392.03 L593.72 392.05 L593.90 392.05 L594.08 392.05 L594.26 392.03 L594.44 392.01 L594.62 391.98 L594.80 391.94 L594.98 391.90 L595.15 391.84 L595.32 391.77 L595.49 391.69 L595.66 391.61 L595.82 391.51 L595.97 391.40 L596.12 391.29 L596.27 391.16 L596.41 391.02 L596.54 390.86 L596.67 390.70 L596.78 390.52 L596.89 390.32 L596.98 390.10 L597.05 389.86 L597.10 389.56 L597.05 389.08 L597.08 388.78 L597.11 388.54 L597.16 388.33 L597.20 388.13 L597.25 387.95 L597.30 387.79 L597.35 387.63 L597.40 387.48 L597.46 387.34 L597.51 387.21 L597.56 387.08 L597.62 386.96 L597.68 386.85 L597.74 386.74 L597.80 386.64 L597.86 386.54 L597.93 386.45 L598.00 386.36 L598.06 386.27 L598.14 386.19 L598.21 386.11 L598.28 386.03 L598.36 385.96 L598.44 385.89 L598.52 385.81 L598.61 385.75 L598.70 385.68 L598.79 385.61 L598.89 385.55 L598.99 385.49 L599.10 385.43 L599.21 385.37 L599.33 385.31 L599.46 385.26 L599.59 385.21 L599.73 385.15 L599.88 385.10 L600.04 385.05 L600.20 385.00 L600.38 384.95 L600.58 384.91 L600.79 384.86 L601.03 384.83 L601.33 384.80 L601.81 384.85 L602.11 384.80 L602.35 384.73 L602.57 384.64 L602.77 384.53 L602.95 384.42 L603.11 384.29 L603.27 384.16 L603.41 384.02 L603.54 383.87 L603.65 383.72 L603.76 383.57 L603.86 383.41 L603.94 383.24 L604.02 383.07 L604.09 382.90 L604.15 382.73 L604.19 382.55 L604.23 382.37 L604.26 382.19 L604.28 382.01 L604.30 381.83 Z M600.10 381.65 L600.10 381.54 L600.11 381.43 L600.11 381.32 L600.13 381.21 L600.14 381.10 L600.16 380.99 L600.19 380.88 L600.22 380.76 L600.25 380.64 L600.29 380.52 L600.33 380.40 L600.38 380.27 L600.44 380.14 L600.50 380.00 L600.57 379.86 L600.64 379.72 L600.73 379.56 L600.82 379.40 L600.93 379.23 L601.05 379.05 L601.19 378.85 L601.38 378.63 L601.75 378.32 L601.93 378.07 L602.05 377.85 L602.14 377.63 L602.21 377.42 L602.25 377.21 L602.28 377.00 L602.30 376.80 L602.30 376.60 L602.29 376.41 L602.26 376.22 L602.23 376.03 L602.18 375.85 L602.13 375.67 L602.06 375.50 L601.99 375.33 L601.91 375.17 L601.82 375.01 L601.72 374.85 L601.61 374.71 L601.50 374.56 L601.38 374.43 L601.25 374.30 L601.12 374.17 L600.99 374.05 L600.84 373.94 L600.70 373.83 L600.54 373.73 L600.38 373.64 L600.22 373.56 L600.05 373.49 L599.88 373.42 L599.70 373.37 L599.52 373.32 L599.33 373.29 L599.14 373.26 L598.95 373.25 L598.75 373.25 L598.55 373.27 L598.34 373.30 L598.13 373.34 L597.92 373.41 L597.70 373.50 L597.48 373.62 L597.23 373.80 L596.92 374.17 L596.70 374.36 L596.50 374.50 L596.32 374.62 L596.15 374.73 L595.99 374.82 L595.83 374.91 L595.69 374.98 L595.55 375.05 L595.41 375.11 L595.28 375.17 L595.15 375.22 L595.03 375.26 L594.91 375.30 L594.79 375.33 L594.67 375.36 L594.56 375.39 L594.45 375.41 L594.34 375.42 L594.23 375.44 L594.12 375.44 L594.01 375.45 L593.90 375.45 L593.79 375.45 L593.68 375.44 L593.57 375.44 L593.46 375.42 L593.35 375.41 L593.24 375.39 L593.13 375.36 L593.01 375.33 L592.89 375.30 L592.77 375.26 L592.65 375.22 L592.52 375.17 L592.39 375.11 L592.25 375.05 L592.11 374.98 L591.97 374.91 L591.81 374.82 L591.65 374.73 L591.48 374.62 L591.30 374.50 L591.10 374.36 L590.88 374.17 L590.57 373.80 L590.32 373.62 L590.10 373.50 L589.88 373.41 L589.67 373.34 L589.46 373.30 L589.25 373.27 L589.05 373.25 L588.85 373.25 L588.66 373.26 L588.47 373.29 L588.28 373.32 L588.10 373.37 L587.92 373.42 L587.75 373.49 L587.58 373.56 L587.42 373.64 L587.26 373.73 L587.10 373.83 L586.96 373.94 L586.81 374.05 L586.68 374.17 L586.55 374.30 L586.42 374.43 L586.30 374.56 L586.19 374.71 L586.08 374.85 L585.98 375.01 L585.89 375.17 L585.81 375.33 L585.74 375.50 L585.67 375.67 L585.62 375.85 L585.57 376.03 L585.54 376.22 L585.51 376.41 L585.50 376.60 L585.50 376.80 L585.52 377.00 L585.55 377.21 L585.59 377.42 L585.66 377.63 L585.75 377.85 L585.87 378.07 L586.05 378.32 L586.42 378.63 L586.61 378.85 L586.75 379.05 L586.87 379.23 L586.98 379.40 L587.07 379.56 L587.16 379.72 L587.23 379.86 L587.30 380.00 L587.36 380.14 L587.42 380.27 L587.47 380.40 L587.51 380.52 L587.55 380.64 L587.58 380.76 L587.61 380.88 L587.64 380.99 L587.66 381.10 L587.67 381.21 L587.69 381.32 L587.69 381.43 L587.70 381.54 L587.70 381.65 L587.70 381.76 L587.69 381.87 L587.69 381.98 L587.67 382.09 L587.66 382.20 L587.64 382.31 L587.61 382.42 L587.58 382.54 L587.55 382.66 L587.51 382.78 L587.47 382.90 L587.42 383.03 L587.36 383.16 L587.30 383.30 L587.23 383.44 L587.16 383.58 L587.07 383.74 L586.98 383.90 L586.87 384.07 L586.75 384.25 L586.61 384.45 L586.42 384.67 L586.05 384.98 L585.87 385.23 L585.75 385.45 L585.66 385.67 L585.59 385.88 L585.55 386.09 L585.52 386.30 L585.50 386.50 L585.50 386.70 L585.51 386.89 L585.54 387.08 L585.57 387.27 L585.62 387.45 L585.67 387.63 L585.74 387.80 L585.81 387.97 L585.89 388.13 L585.98 388.29 L586.08 388.45 L586.19 388.59 L586.30 388.74 L586.42 388.87 L586.55 389.00 L586.68 389.13 L586.81 389.25 L586.96 389.36 L587.10 389.47 L587.26 389.57 L587.42 389.66 L587.58 389.74 L587.75 389.81 L587.92 389.88 L588.10 389.93 L588.28 389.98 L588.47 390.01 L588.66 390.04 L588.85 390.05 L589.05 390.05 L589.25 390.03 L589.46 390.00 L589.67 389.96 L589.88 389.89 L590.10 389.80 L590.32 389.68 L590.57 389.50 L590.88 389.13 L591.10 388.94 L591.30 388.80 L591.48 388.68 L591.65 388.57 L591.81 388.48 L591.97 388.39 L592.11 388.32 L592.25 388.25 L592.39 388.19 L592.52 388.13 L592.65 388.08 L592.77 388.04 L592.89 388.00 L593.01 387.97 L593.13 387.94 L593.24 387.91 L593.35 387.89 L593.46 387.88 L593.57 387.86 L593.68 387.86 L593.79 387.85 L593.90 387.85 L594.01 387.85 L594.12 387.86 L594.23 387.86 L594.34 387.88 L594.45 387.89 L594.56 387.91 L594.67 387.94 L594.79 387.97 L594.91 388.00 L595.03 388.04 L595.15 388.08 L595.28 388.13 L595.41 388.19 L595.55 388.25 L595.69 388.32 L595.83 388.39 L595.99 388.48 L596.15 388.57 L596.32 388.68 L596.50 388.80 L596.70 388.94 L596.92 389.13 L597.23 389.50 L597.48 389.68 L597.70 389.80 L597.92 389.89 L598.13 389.96 L598.34 390.00 L598.55 390.03 L598.75 390.05 L598.95 390.05 L599.14 390.04 L599.33 390.01 L599.52 389.98 L599.70 389.93 L599.88 389.88 L600.05 389.81 L600.22 389.74 L600.38 389.66 L600.54 389.57 L600.70 389.47 L600.84 389.36 L600.99 389.25 L601.12 389.13 L601.25 389.00 L601.38 388.87 L601.50 388.74 L601.61 388.59 L601.72 388.45 L601.82 388.29 L601.91 388.13 L601.99 387.97 L602.06 387.80 L602.13 387.63 L602.18 387.45 L602.23 387.27 L602.26 387.08 L602.29 386.89 L602.30 386.70 L602.30 386.50 L602.28 386.30 L602.25 386.09 L602.21 385.88 L602.14 385.67 L602.05 385.45 L601.93 385.23 L601.75 384.98 L601.38 384.67 L601.19 384.45 L601.05 384.25 L600.93 384.07 L600.82 383.90 L600.73 383.74 L600.64 383.58 L600.57 383.44 L600.50 383.30 L600.44 383.16 L600.38 383.03 L600.33 382.90 L600.29 382.78 L600.25 382.66 L600.22 382.54 L600.19 382.42 L600.16 382.31 L600.14 382.20 L600.13 382.09 L600.11 381.98 L600.11 381.87 L600.10 381.76 Z" fill="none" stroke="#f4f4f4" stroke-width="1.45" stroke-linejoin="round"/><path d="M603.60 379.50 L603.52 379.41 L603.44 379.32 L603.36 379.23 L603.27 379.14 L603.17 379.06 L603.07 378.98 L602.97 378.90 L602.86 378.83 L602.74 378.76 L602.62 378.69 L602.49 378.63 L602.35 378.57 L602.20 378.52 L602.04 378.48 L601.85 378.46 L601.57 378.47 L601.29 378.50 L601.10 378.48 L600.94 378.46 L600.79 378.44 L600.66 378.41 L600.53 378.38 L600.41 378.35 L600.29 378.32 L600.18 378.29 L600.08 378.26 L599.98 378.23 L599.88 378.20 L599.78 378.17 L599.69 378.13 L599.61 378.10 L599.52 378.07 M599.24 373.27 L599.12 373.26 L599.00 373.25 L598.87 373.25 L598.75 373.25 L598.62 373.26 L598.50 373.27 L598.37 373.29 L598.24 373.32 L598.11 373.35 L597.97 373.39 L597.84 373.44 L597.70 373.50 L597.56 373.57 L597.42 373.66 L597.26 373.77 L597.08 373.98 L596.89 374.20 L596.75 374.32 L596.62 374.42 L596.50 374.50 L596.39 374.58 L596.28 374.65 L596.17 374.72 L596.07 374.78 L595.97 374.83 L595.87 374.89 L595.78 374.94 L595.69 374.98 L595.60 375.03 L595.51 375.07 L595.43 375.10 L595.34 375.14 M591.75 371.95 L591.66 372.03 L591.57 372.11 L591.48 372.19 L591.39 372.28 L591.31 372.38 L591.23 372.48 L591.15 372.58 L591.08 372.69 L591.01 372.81 L590.94 372.93 L590.88 373.06 L590.82 373.20 L590.77 373.35 L590.73 373.51 L590.71 373.70 L590.72 373.98 L590.75 374.26 L590.73 374.45 L590.71 374.61 L590.69 374.76 L590.66 374.89 L590.63 375.02 L590.60 375.14 L590.57 375.26 L590.54 375.37 L590.51 375.47 L590.48 375.57 L590.45 375.67 L590.42 375.77 L590.38 375.86 L590.35 375.94 L590.32 376.03 M585.52 376.31 L585.51 376.43 L585.50 376.55 L585.50 376.68 L585.50 376.80 L585.51 376.93 L585.52 377.05 L585.54 377.18 L585.57 377.31 L585.60 377.44 L585.64 377.58 L585.69 377.71 L585.75 377.85 L585.82 377.99 L585.91 378.13 L586.02 378.29 L586.23 378.47 L586.45 378.66 L586.57 378.80 L586.67 378.93 L586.75 379.05 L586.83 379.16 L586.90 379.27 L586.97 379.38 L587.03 379.48 L587.08 379.58 L587.14 379.68 L587.19 379.77 L587.23 379.86 L587.28 379.95 L587.32 380.04 L587.35 380.12 L587.39 380.21 M584.20 383.80 L584.28 383.89 L584.36 383.98 L584.44 384.07 L584.53 384.16 L584.63 384.24 L584.73 384.32 L584.83 384.40 L584.94 384.47 L585.06 384.54 L585.18 384.61 L585.31 384.67 L585.45 384.73 L585.60 384.78 L585.76 384.82 L585.95 384.84 L586.23 384.83 L586.51 384.80 L586.70 384.82 L586.86 384.84 L587.01 384.86 L587.14 384.89 L587.27 384.92 L587.39 384.95 L587.51 384.98 L587.62 385.01 L587.72 385.04 L587.82 385.07 L587.92 385.10 L588.02 385.13 L588.11 385.17 L588.19 385.20 L588.28 385.23 M588.56 390.03 L588.68 390.04 L588.80 390.05 L588.93 390.05 L589.05 390.05 L589.18 390.04 L589.30 390.03 L589.43 390.01 L589.56 389.98 L589.69 389.95 L589.83 389.91 L589.96 389.86 L590.10 389.80 L590.24 389.73 L590.38 389.64 L590.54 389.53 L590.72 389.32 L590.91 389.10 L591.05 388.98 L591.18 388.88 L591.30 388.80 L591.41 388.72 L591.52 388.65 L591.63 388.58 L591.73 388.52 L591.83 388.47 L591.93 388.41 L592.02 388.36 L592.11 388.32 L592.20 388.27 L592.29 388.23 L592.37 388.20 L592.46 388.16 M596.05 391.35 L596.14 391.27 L596.23 391.19 L596.32 391.11 L596.41 391.02 L596.49 390.92 L596.57 390.82 L596.65 390.72 L596.72 390.61 L596.79 390.49 L596.86 390.37 L596.92 390.24 L596.98 390.10 L597.03 389.95 L597.07 389.79 L597.09 389.60 L597.08 389.32 L597.05 389.04 L597.07 388.85 L597.09 388.69 L597.11 388.54 L597.14 388.41 L597.17 388.28 L597.20 388.16 L597.23 388.04 L597.26 387.93 L597.29 387.83 L597.32 387.73 L597.35 387.63 L597.38 387.53 L597.42 387.44 L597.45 387.36 L597.48 387.27 M602.28 386.99 L602.29 386.87 L602.30 386.75 L602.30 386.62 L602.30 386.50 L602.29 386.37 L602.28 386.25 L602.26 386.12 L602.23 385.99 L602.20 385.86 L602.16 385.72 L602.11 385.59 L602.05 385.45 L601.98 385.31 L601.89 385.17 L601.78 385.01 L601.57 384.83 L601.35 384.64 L601.23 384.50 L601.13 384.37 L601.05 384.25 L600.97 384.14 L600.90 384.03 L600.83 383.92 L600.77 383.82 L600.72 383.72 L600.66 383.62 L600.61 383.53 L600.57 383.44 L600.52 383.35 L600.48 383.26 L600.45 383.18 L600.41 383.09" fill="none" stroke="#111214" stroke-width="2.05" stroke-linecap="butt"/><path d="M604.06 380.31 L603.99 380.15 L603.91 380.00 L603.83 379.84 L603.74 379.69 L603.63 379.55 L603.52 379.41 L603.40 379.27 L603.27 379.14 L603.12 379.02 L602.97 378.90 L602.80 378.79 L602.62 378.69 L602.42 378.60 L602.20 378.52 L601.95 378.47 L601.57 378.47 L601.19 378.49 L600.94 378.46 L600.72 378.42 L600.53 378.38 L600.35 378.34 L600.18 378.29 L600.03 378.25 L599.88 378.20 L599.74 378.15 L599.61 378.10 L599.48 378.05 L599.36 378.00 L599.25 377.95 L599.14 377.89 L599.04 377.84 L598.94 377.78 M600.14 373.52 L599.98 373.46 L599.81 373.40 L599.64 373.35 L599.47 373.31 L599.30 373.28 L599.12 373.26 L598.93 373.25 L598.75 373.25 L598.56 373.27 L598.37 373.29 L598.17 373.33 L597.97 373.39 L597.77 373.47 L597.56 373.57 L597.34 373.71 L597.08 373.98 L596.82 374.26 L596.62 374.42 L596.44 374.54 L596.28 374.65 L596.12 374.75 L595.97 374.83 L595.82 374.91 L595.69 374.98 L595.55 375.05 L595.43 375.10 L595.30 375.16 L595.18 375.20 L595.06 375.25 L594.95 375.29 L594.84 375.32 L594.73 375.35 M592.56 371.49 L592.40 371.56 L592.25 371.64 L592.09 371.72 L591.94 371.81 L591.80 371.92 L591.66 372.03 L591.52 372.15 L591.39 372.28 L591.27 372.43 L591.15 372.58 L591.04 372.75 L590.94 372.93 L590.85 373.13 L590.77 373.35 L590.72 373.60 L590.72 373.98 L590.74 374.36 L590.71 374.61 L590.67 374.83 L590.63 375.02 L590.59 375.20 L590.54 375.37 L590.50 375.52 L590.45 375.67 L590.40 375.81 L590.35 375.94 L590.30 376.07 L590.25 376.19 L590.20 376.30 L590.14 376.41 L590.09 376.51 L590.03 376.61 M585.77 375.41 L585.71 375.57 L585.65 375.74 L585.60 375.91 L585.56 376.08 L585.53 376.25 L585.51 376.43 L585.50 376.62 L585.50 376.80 L585.52 376.99 L585.54 377.18 L585.58 377.38 L585.64 377.58 L585.72 377.78 L585.82 377.99 L585.96 378.21 L586.23 378.47 L586.51 378.73 L586.67 378.93 L586.79 379.11 L586.90 379.27 L587.00 379.43 L587.08 379.58 L587.16 379.73 L587.23 379.86 L587.30 380.00 L587.35 380.12 L587.41 380.25 L587.45 380.37 L587.50 380.49 L587.54 380.60 L587.57 380.71 L587.60 380.82 M583.74 382.99 L583.81 383.15 L583.89 383.30 L583.97 383.46 L584.06 383.61 L584.17 383.75 L584.28 383.89 L584.40 384.03 L584.53 384.16 L584.68 384.28 L584.83 384.40 L585.00 384.51 L585.18 384.61 L585.38 384.70 L585.60 384.78 L585.85 384.83 L586.23 384.83 L586.61 384.81 L586.86 384.84 L587.08 384.88 L587.27 384.92 L587.45 384.96 L587.62 385.01 L587.77 385.05 L587.92 385.10 L588.06 385.15 L588.19 385.20 L588.32 385.25 L588.44 385.30 L588.55 385.35 L588.66 385.41 L588.76 385.46 L588.86 385.52 M587.66 389.78 L587.82 389.84 L587.99 389.90 L588.16 389.95 L588.33 389.99 L588.50 390.02 L588.68 390.04 L588.87 390.05 L589.05 390.05 L589.24 390.03 L589.43 390.01 L589.63 389.97 L589.83 389.91 L590.03 389.83 L590.24 389.73 L590.46 389.59 L590.72 389.32 L590.98 389.04 L591.18 388.88 L591.36 388.76 L591.52 388.65 L591.68 388.55 L591.83 388.47 L591.98 388.39 L592.11 388.32 L592.25 388.25 L592.37 388.20 L592.50 388.14 L592.62 388.10 L592.74 388.05 L592.85 388.01 L592.96 387.98 L593.07 387.95 M595.24 391.81 L595.40 391.74 L595.55 391.66 L595.71 391.58 L595.86 391.49 L596.00 391.38 L596.14 391.27 L596.28 391.15 L596.41 391.02 L596.53 390.87 L596.65 390.72 L596.76 390.55 L596.86 390.37 L596.95 390.17 L597.03 389.95 L597.08 389.70 L597.08 389.32 L597.06 388.94 L597.09 388.69 L597.13 388.47 L597.17 388.28 L597.21 388.10 L597.26 387.93 L597.30 387.78 L597.35 387.63 L597.40 387.49 L597.45 387.36 L597.50 387.23 L597.55 387.11 L597.60 387.00 L597.66 386.89 L597.71 386.79 L597.77 386.69 M602.03 387.89 L602.09 387.73 L602.15 387.56 L602.20 387.39 L602.24 387.22 L602.27 387.05 L602.29 386.87 L602.30 386.68 L602.30 386.50 L602.28 386.31 L602.26 386.12 L602.22 385.92 L602.16 385.72 L602.08 385.52 L601.98 385.31 L601.84 385.09 L601.57 384.83 L601.29 384.57 L601.13 384.37 L601.01 384.19 L600.90 384.03 L600.80 383.87 L600.72 383.72 L600.64 383.57 L600.57 383.44 L600.50 383.30 L600.45 383.18 L600.39 383.05 L600.35 382.93 L600.30 382.81 L600.26 382.70 L600.23 382.59 L600.20 382.48" fill="none" stroke="#f4f4f4" stroke-width="1.45" stroke-linecap="butt"/>
<g transform="translate(611.70 377.95) scale(1.0000) translate(-611.7 -377.95)" fill="none" stroke="#f0f0f0" stroke-width="1.35" stroke-linecap="butt" stroke-linejoin="miter"><path d="M611.70 378.53 H613.17 A2.95 2.95 0 0 1 613.17 384.43 H611.70"/><path d="M619.00 378.53 H623.30 M619.00 381.48 H623.30 M619.00 384.43 H623.30"/><path d="M626.57 377.85 V384.43 H630.40"/><path d="M633.07 385.10 V378.53 H635.08 A1.75 1.75 0 0 1 635.08 382.03 H633.07"/><path d="M640.47 377.85 V385.10 M644.83 377.85 V385.10 M640.47 381.48 H644.83"/><path d="M648.90 377.85 V385.10"/><path d="M655.90 378.53 H657.88 A2.95 2.95 0 0 1 657.88 384.43 H655.90"/><path d="M664.30 377.85 V385.10"/><path d="M672.66 379.66 A2.67 2.95 0 1 0 673.22 381.83 H670.75"/><path d="M676.85 377.85 V385.10"/><path d="M679.30 378.53 H685.30 M682.30 378.53 V385.10"/><path d="M686.74 385.10 L689.75 378.35 L692.76 385.10"/><path d="M695.77 377.85 V384.43 H700.00"/></g>
<text x="71.9" y="46.7" font-family="Liberation Sans, sans-serif" font-size="20" font-weight="bold" fill="#ffffff">Spot Bitcoin ETF Fund Flows Keep Party Going</text>
<text x="71.0" y="68.8" font-family="Liberation Sans, sans-serif" font-size="14.19" fill="#a3a4a6">BTCUSD vs. Spot BTC ETF Daily Net Fund Flows</text>
<g font-family="Liberation Sans, sans-serif" font-size="10" font-style="italic" fill="#6e7073">
<text x="21.30" y="378.6">Data</text>
<text x="46.00" y="378.6">as</text>
<text x="61.60" y="378.6">of</text>
<text x="73.10" y="378.6">April</text>
<text x="98.40" y="378.6">12,</text>
<text x="116.00" y="378.6">2024</text>
<text x="21.30" y="391.9">Source:</text>
<text x="62.30" y="391.9">Delphi</text>
<text x="96.20" y="391.9">Scope</text>
</g>
</svg>
</body></html>
